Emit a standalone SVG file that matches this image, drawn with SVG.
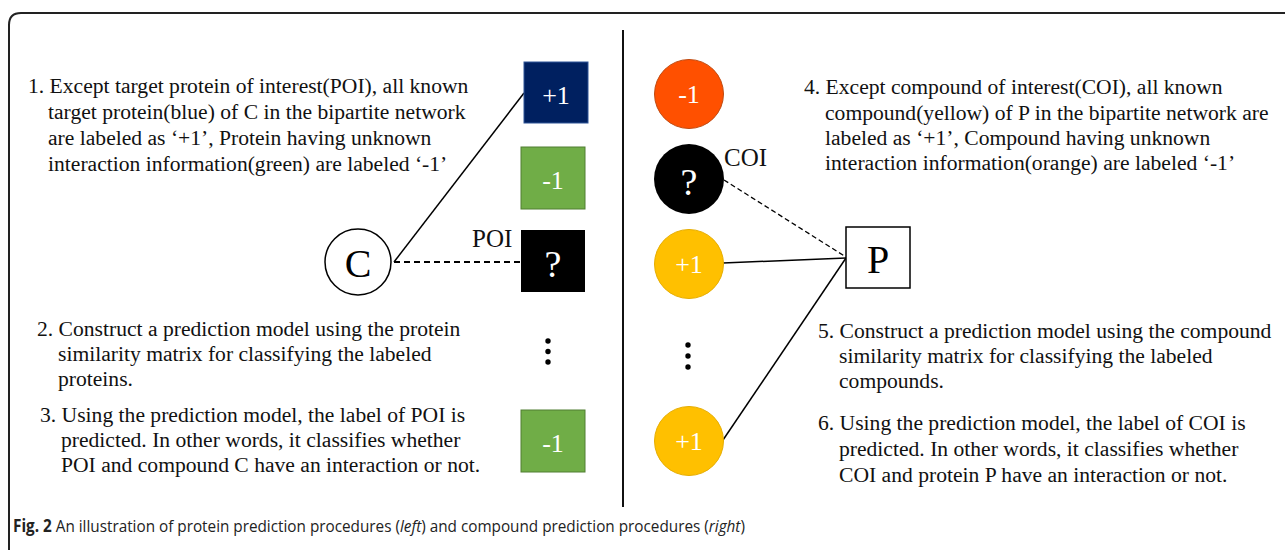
<svg xmlns="http://www.w3.org/2000/svg" width="1285" height="550" viewBox="0 0 1285 550">
<style>
.t{font-family:"Liberation Serif","Times New Roman",serif;font-size:21.6px;fill:#111}
.lbl{font-family:"Liberation Serif","Times New Roman",serif;font-size:26px;fill:#fff;text-anchor:middle}
.q{font-family:"Liberation Serif","Times New Roman",serif;font-size:38px;fill:#fff;text-anchor:middle}
.big{font-family:"Liberation Serif","Times New Roman",serif;font-size:40px;fill:#000;text-anchor:middle}
.tag{font-family:"Liberation Serif","Times New Roman",serif;font-size:25px;fill:#111}
.cap{font-family:"Open Sans","Noto Sans",sans-serif;font-size:17px;fill:#222}
.solid{stroke:#000;stroke-width:1.5;fill:none}
.dash{stroke:#000;stroke-width:1.8;fill:none;stroke-dasharray:6 4}
.dash2{stroke:#000;stroke-width:1.3;fill:none;stroke-dasharray:5 3}
</style>
<rect width="1285" height="550" fill="#fff"/>
<path d="M1285,13 H21 Q9,13 9,25 V550" fill="none" stroke="#222" stroke-width="2"/>
<line x1="623" y1="30" x2="623" y2="507" stroke="#111" stroke-width="2"/>

<g id="connectors">
<line class="solid" x1="394" y1="262" x2="524" y2="93"/>
<line class="dash" x1="394" y1="262" x2="521" y2="262"/>
<line class="dash2" x1="724" y1="180" x2="846" y2="257"/>
<line class="solid" x1="723" y1="263" x2="846" y2="258"/>
<line class="solid" x1="723" y1="440" x2="846" y2="258"/>
</g>

<g id="text1">
<text class="t" x="28" y="93">1. Except target protein of interest(POI), all known</text>
<text class="t" x="48" y="119">target protein(blue) of C in the bipartite network</text>
<text class="t" x="48" y="145">are labeled as ‘+1’, Protein having unknown</text>
<text class="t" x="48" y="171">interaction information(green) are labeled ‘-1’</text>
</g>
<g id="text2">
<text class="t" x="37" y="336">2. Construct a prediction model using the protein</text>
<text class="t" x="58" y="361">similarity matrix for classifying the labeled</text>
<text class="t" x="58" y="386">proteins.</text>
</g>
<g id="text3">
<text class="t" x="40" y="422">3. Using the prediction model, the label of POI is</text>
<text class="t" x="61" y="447">predicted. In other words, it classifies whether</text>
<text class="t" x="61" y="472">POI and compound C have an interaction or not.</text>
</g>
<g id="text4">
<text class="t" x="804" y="94">4. Except compound of interest(COI), all known</text>
<text class="t" x="825" y="120">compound(yellow) of P in the bipartite network are</text>
<text class="t" x="825" y="145">labeled as ‘+1’, Compound having unknown</text>
<text class="t" x="825" y="170">interaction information(orange) are labeled ‘-1’</text>
</g>
<g id="text5">
<text class="t" x="818" y="338">5. Construct a prediction model using the compound</text>
<text class="t" x="839" y="363">similarity matrix for classifying the labeled</text>
<text class="t" x="839" y="388">compounds.</text>
</g>
<g id="text6">
<text class="t" x="818" y="430">6. Using the prediction model, the label of COI is</text>
<text class="t" x="839" y="456">predicted. In other words, it classifies whether</text>
<text class="t" x="839" y="482">COI and protein P have an interaction or not.</text>
</g>

<g id="node-C">
<circle cx="358" cy="262" r="33" fill="#fff" stroke="#000" stroke-width="1.5"/>
<text class="big" x="358" y="277">C</text>
</g>
<g id="node-pos1">
<rect x="524" y="62" width="64" height="61" fill="#002060" stroke="#2F5597" stroke-width="1"/>
<text class="lbl" x="556" y="104">+1</text>
</g>
<g id="node-neg1a">
<rect x="521" y="147" width="64" height="62" fill="#70AD47" stroke="#507E32" stroke-width="1"/>
<text class="lbl" x="553" y="189">-1</text>
</g>
<g id="node-POI">
<rect x="521" y="230" width="64" height="62" fill="#000"/>
<text class="q" x="553" y="277">?</text>
<text class="tag" x="472" y="247">POI</text>
</g>
<g id="dots-left">
<circle cx="548" cy="341" r="2.7" fill="#000"/>
<circle cx="548" cy="351.5" r="2.7" fill="#000"/>
<circle cx="548" cy="362" r="2.7" fill="#000"/>
</g>
<g id="node-neg1b">
<rect x="521" y="410" width="64" height="62" fill="#70AD47" stroke="#507E32" stroke-width="1"/>
<text class="lbl" x="553" y="452">-1</text>
</g>

<g id="node-c-neg1">
<circle cx="689" cy="94" r="34.5" fill="#FF5000" stroke="#C04A10" stroke-width="1"/>
<text class="lbl" x="689" y="103">-1</text>
</g>
<g id="node-COI">
<circle cx="689" cy="179" r="35" fill="#000"/>
<text class="q" x="689" y="195">?</text>
<text class="tag" x="724" y="166">COI</text>
</g>
<g id="node-c-pos1a">
<circle cx="689" cy="264" r="34.5" fill="#FFC000" stroke="#E6AD00" stroke-width="1"/>
<text class="lbl" x="689" y="273">+1</text>
</g>
<g id="dots-right">
<circle cx="688" cy="345" r="2.7" fill="#000"/>
<circle cx="688" cy="356" r="2.7" fill="#000"/>
<circle cx="688" cy="367" r="2.7" fill="#000"/>
</g>
<g id="node-c-pos1b">
<circle cx="689" cy="441" r="34.5" fill="#FFC000" stroke="#E6AD00" stroke-width="1"/>
<text class="lbl" x="689" y="450">+1</text>
</g>
<g id="node-P">
<rect x="846" y="227" width="64" height="61" fill="#fff" stroke="#000" stroke-width="1.5"/>
<text class="big" x="878" y="273">P</text>
</g>

<g id="caption" transform="translate(13,532) scale(0.9,1)">
<text class="cap" x="0" y="0"><tspan font-weight="bold">Fig. 2</tspan> An illustration of protein prediction procedures (<tspan font-style="italic">left</tspan>) and compound prediction procedures (<tspan font-style="italic">right</tspan>)</text>
</g>
</svg>
